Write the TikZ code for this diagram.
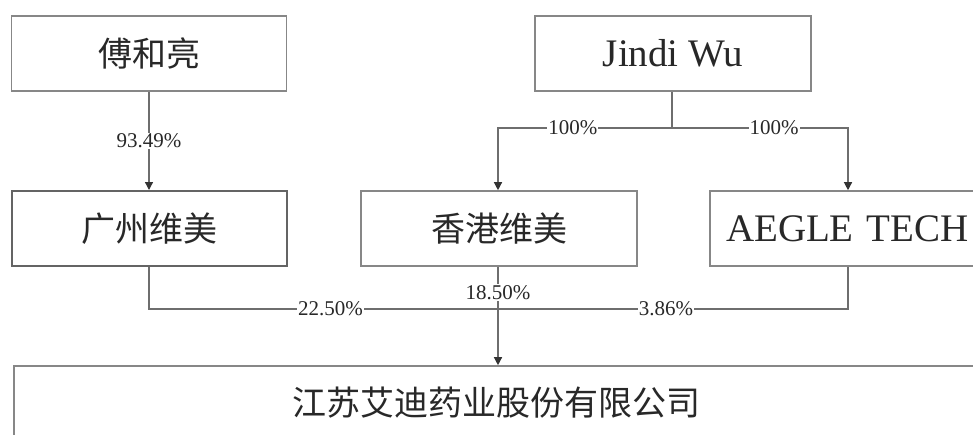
\documentclass[tikz,border=0pt]{standalone}
\usepackage{fontspec}
\setmainfont{Liberation Serif}
\newfontfamily\cjk{Noto Sans CJK SC}
\usetikzlibrary{arrows.meta}
\definecolor{boxline}{RGB}{135,135,135}
\definecolor{txt}{RGB}{40,40,40}
\definecolor{conn}{RGB}{110,110,110}
\tikzset{
  x=1pt,y=-1pt,
  ent/.style={draw=boxline,line width=1.6pt,fill=white,inner sep=0pt,text=txt},
  cjkbox/.style={ent,font=\cjk\fontsize{34}{34}\selectfont},
  latbox/.style={ent,font=\fontsize{39}{39}\selectfont},
  link/.style={draw=conn,line width=1.3pt},
  arr/.style={link,-{Triangle[length=8pt,width=8pt,color=black!80]}},
  pct/.style={fill=white,inner sep=1pt,text=txt,font=\fontsize{21}{21}\selectfont}
}
\begin{document}
\begin{tikzpicture}
\useasboundingbox (0,0) rectangle (973,434);
\clip (0,0) rectangle (973,434);
% boxes
\node[cjkbox,minimum width=275pt,minimum height=75pt] (fu) at (149,53.5) {傅和亮};
\node[latbox,minimum width=276pt,minimum height=75pt] (jw) at (673,53.5) {Jindi Wu};
\node[cjkbox,minimum width=275pt,minimum height=75pt,line width=2pt,draw={rgb,255:red,100;green,100;blue,100}] (gz) at (149,228.5) {广州维美};
\node[latbox,minimum width=300pt,minimum height=75pt,text width=280pt,align=left] (ae) at (860,228.5) {\hspace*{6pt}AEGLE TECH};
\node[cjkbox,minimum width=276pt,minimum height=75pt] (hk) at (499,228.5) {香港维美};
\node[cjkbox,minimum width=990pt,minimum height=94pt,text width=970pt,align=left] (jsad) at (509,413) {\hspace*{268pt}\raisebox{24pt}{江苏艾迪药业股份有限公司}};
% coordinates
\coordinate (jwj) at (672,128);
\coordinate (hkc) at (498,128);
\coordinate (aec) at (848,128);
\coordinate (mid) at (498,309);
\coordinate (gzc) at (gz.south |- mid);
\coordinate (aeb) at (aec |- mid);
% connectors
\draw[arr] (fu.south) -- node[pct,pos=0.5] {93.49\%} (gz.north);
\draw[link] (jw.south -| jwj) -- (jwj);
\draw[arr] (jwj) -- node[pct,pos=0.57] {100\%} (hkc) -- (hkc |- hk.north);
\draw[arr] (jwj) -- node[pct,pos=0.58] {100\%} (aec) -- (aec |- ae.north);
\draw[link] (gz.south) -- (gzc) -- node[pct,pos=0.52] {22.50\%} (mid);
\draw[link] (ae.south -| aeb) -- (aeb) -- node[pct,pos=0.52] {3.86\%} (mid);
\draw[arr] (hk.south -| mid) -- node[pct,pos=0.26] {18.50\%} (mid |- jsad.north);
\end{tikzpicture}
\end{document}
